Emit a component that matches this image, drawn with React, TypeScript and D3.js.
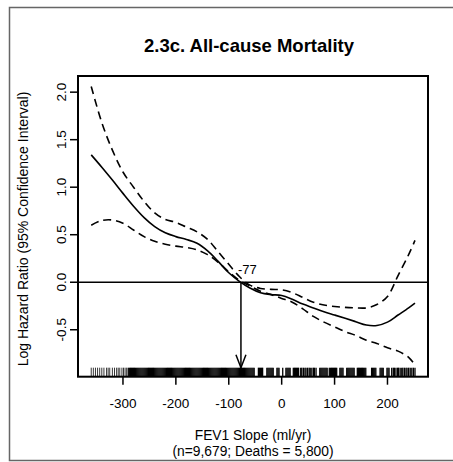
import React from "react";
import * as d3 from "d3";

const W = 453;
const H = 462;

// Fit grid (FEV1 slope, ml/yr)
const gridX = [-360, -340, -320, -300, -280, -260, -240, -220, -200, -180, -160, -140, -120, -100, -80, -60, -40, -20, 0, 20, 40, 60, 80, 100, 120, 140, 160, 180, 200, 220, 240, 252];
// Log hazard ratio estimate
const estimate = [1.34, 1.21, 1.075, 0.935, 0.8, 0.68, 0.585, 0.52, 0.48, 0.45, 0.41, 0.33, 0.22, 0.1, 0.01, -0.06, -0.11, -0.13, -0.14, -0.18, -0.23, -0.27, -0.31, -0.345, -0.38, -0.415, -0.45, -0.455, -0.42, -0.345, -0.27, -0.22];
// Upper 95% CI
const upper = [2.06, 1.68, 1.39, 1.16, 1.0, 0.85, 0.73, 0.66, 0.63, 0.58, 0.53, 0.45, 0.32, 0.19, 0.06, -0.03, -0.065, -0.075, -0.08, -0.11, -0.16, -0.21, -0.24, -0.255, -0.265, -0.27, -0.27, -0.235, -0.15, 0.07, 0.29, 0.44];
// Lower 95% CI
const lower = [0.6, 0.65, 0.655, 0.62, 0.55, 0.48, 0.43, 0.4, 0.38, 0.365, 0.34, 0.29, 0.21, 0.11, 0.02, -0.04, -0.095, -0.13, -0.17, -0.21, -0.28, -0.36, -0.42, -0.47, -0.52, -0.56, -0.61, -0.645, -0.69, -0.725, -0.79, -0.87];

// Rug of observed FEV1 slopes
const rugValues = [
  -360, -356, -352, -348, -344, -340, -336, -331, -328, -325, -320, -316, -312, -309, -306, -302, -299, -296, -293,
  -290, -288, -286, -284, -282, -280, -278, -276, -274, -272, -270, -268, -266, -264, -262, -260, -258, -256, -254, -252, -250, -248, -246,
  -244, -242, -240, -238, -236, -234, -232, -230, -228, -226, -224, -222, -220, -218, -216, -214, -212, -210, -208, -206, -204, -202, -200,
  -198, -196, -194, -192, -190, -188, -186, -184, -182, -180, -178, -176, -174, -172, -170, -168, -166, -164, -162, -160, -158, -156, -154,
  -152, -150, -148, -146, -144, -142, -140, -138, -136, -134, -132, -130, -128, -126, -124, -122, -120, -118, -116, -114, -112, -110, -108,
  -106, -104, -102, -100, -98, -96, -94, -92, -90, -88, -86, -84, -82, -80, -78, -76, -74, -72, -70, -68, -66, -64, -62, -60, -58,
  -56, -54, -52, -44, -42, -40, -38, -36, -28, -26, -24, -22, -20, -18, -16, -9, -7, -5, 2, 8, 10, 12, 14, 16,
  22, 24, 26, 28, 30, 32, 36, 38, 41, 44, 46, 49, 52, 54, 57, 60, 62, 65, 72, 74, 76, 78, 80, 82, 84, 86,
  90, 92, 94, 96, 98, 100, 102, 104, 110, 112, 114, 116, 123, 125, 127, 129, 131, 133, 135, 137,
  143, 145, 147, 149, 151, 153, 155, 157, 159, 170, 172, 174, 176, 178, 186, 188, 190, 192, 199, 201, 203,
  208, 211, 213, 216, 219, 221, 224, 227, 229, 232, 235, 237, 240, 243, 246, 249, 252,
];

const xTicks = [-300, -200, -100, 0, 100, 200];
const yTicks = [-0.5, 0, 0.5, 1, 1.5, 2];
const refSlope = -77;

const titleText = "2.3c. All-cause Mortality";
const xTitle1 = "FEV1 Slope (ml/yr)";
const xTitle2 = "(n=9,679; Deaths = 5,800)";
const yTitle = "Log Hazard Ratio (95% Confidence Interval)";

const FONT = "'Liberation Sans', Arial, Helvetica, sans-serif";

export default function App() {
  const left = 78, right = 428, top = 76, bottom = 376.7;
  const x = d3.scaleLinear().domain([-385, 276.6]).range([left, right]);
  const y = d3.scaleLinear().domain([-0.994, 2.17]).range([bottom, top]);

  const line = (vals: number[]) =>
    d3
      .line<number>()
      .x((_, i) => x(gridX[i]))
      .y((v) => y(v))
      .curve(d3.curveCatmullRom.alpha(0.5))(vals) as string;

  const rugTop = bottom - 0.03 * (bottom - top);
  const ax = x(refSlope);
  const tipY = rugTop;

  return (
    <div style={{ position: "absolute", left: 0, top: 0 }}>
      <svg width={W} height={H} style={{ display: "block", fontFamily: FONT }}>
        <rect x={0} y={0} width={W} height={H} fill="#fff" />
        {/* outer frame */}
        <rect x={9.5} y={7.5} width={470} height={453} fill="none" stroke="#666" strokeWidth={1.5} />

        <text x={249} y={52} textAnchor="middle" fontWeight="bold" fontSize={18.5}>
          {titleText}
        </text>

        {/* rug */}
        {rugValues.map((v, i) => (
          <line key={"r" + i} x1={x(v)} x2={x(v)} y1={rugTop} y2={bottom} stroke="#000" strokeWidth={v < -292 ? 0.8 : 1.3} />
        ))}

        {/* zero line */}
        <line x1={left} x2={right} y1={y(0)} y2={y(0)} stroke="#000" strokeWidth={1.5} />

        {/* curves */}
        <path d={line(upper)} fill="none" stroke="#000" strokeWidth={1.6} strokeDasharray="8,5" />
        <path d={line(lower)} fill="none" stroke="#000" strokeWidth={1.6} strokeDasharray="8,5" />
        <path d={line(estimate)} fill="none" stroke="#000" strokeWidth={1.6} />

        {/* arrow */}
        <line x1={ax} x2={ax} y1={y(0)} y2={tipY} stroke="#000" strokeWidth={1.5} />
        <path d={`M${ax - 5},${tipY - 13} L${ax},${tipY} L${ax + 5},${tipY - 13}`} fill="none" stroke="#000" strokeWidth={1.5} />
        <text x={ax - 3} y={274} fontSize={13}>
          {String(refSlope)}
        </text>

        {/* box */}
        <rect x={left} y={top} width={right - left} height={bottom - top} fill="none" stroke="#000" strokeWidth={2} />

        {/* x axis */}
        {xTicks.map((t) => (
          <g key={"x" + t}>
            <line x1={x(t)} x2={x(t)} y1={bottom} y2={bottom + 8} stroke="#000" strokeWidth={1.5} />
            <text x={x(t)} y={408} textAnchor="middle" fontSize={13.5}>
              {t}
            </text>
          </g>
        ))}
        {/* y axis */}
        {yTicks.map((t) => (
          <g key={"y" + t}>
            <line x1={left} x2={left - 8} y1={y(t)} y2={y(t)} stroke="#000" strokeWidth={1.5} />
            <text transform={`translate(66,${y(t)}) rotate(-90)`} textAnchor="middle" fontSize={13.5}>
              {t.toFixed(1)}
            </text>
          </g>
        ))}

        <text x={253} y={440} textAnchor="middle" fontSize={13.8}>
          {xTitle1}
        </text>
        <text x={253} y={456} textAnchor="middle" fontSize={13.8}>
          {xTitle2}
        </text>
        <text transform={`translate(28,229) rotate(-90)`} textAnchor="middle" fontSize={14}>
          {yTitle}
        </text>
      </svg>
    </div>
  );
}
